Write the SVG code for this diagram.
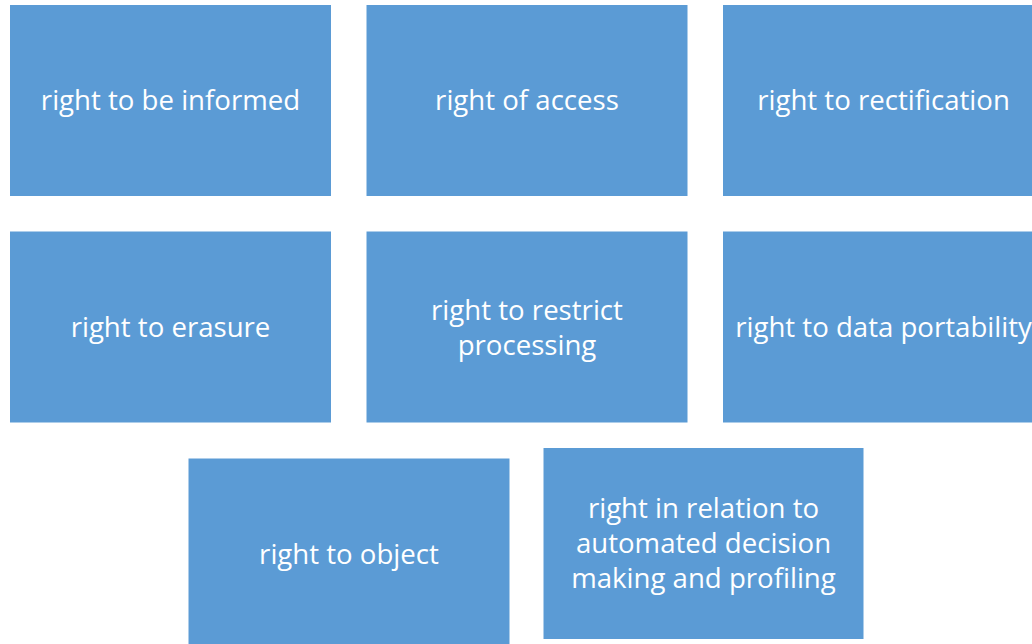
<svg xmlns="http://www.w3.org/2000/svg" width="1032" height="644" viewBox="0 0 1032 644">
  <style>
    .box { fill: #5b9bd5; stroke: #ffffff; stroke-width: 1; }
    .lbl { fill: #ffffff; font-family: "Open Sans", "Liberation Sans", sans-serif; font-size: 27.6px; text-anchor: middle; }
  </style>
  <rect width="1032" height="644" fill="#ffffff"/>

  <g id="node-informed">
    <rect class="box" x="9.5" y="4.5" width="322" height="192"/>
    <text class="lbl" x="170.5" y="110">right to be informed</text>
  </g>
  <g id="node-access">
    <rect class="box" x="366" y="4.5" width="322" height="192"/>
    <text class="lbl" x="527" y="110">right of access</text>
  </g>
  <g id="node-rectification">
    <rect class="box" x="722.5" y="4.5" width="322" height="192"/>
    <text class="lbl" x="883.5" y="110">right to rectification</text>
  </g>

  <g id="node-erasure">
    <rect class="box" x="9.5" y="231" width="322" height="192"/>
    <text class="lbl" x="170.5" y="337">right to erasure</text>
  </g>
  <g id="node-restrict">
    <rect class="box" x="366" y="231" width="322" height="192"/>
    <text class="lbl" x="527" y="319.5">right to restrict</text>
    <text class="lbl" x="527" y="354.5">processing</text>
  </g>
  <g id="node-portability">
    <rect class="box" x="722.5" y="231" width="322" height="192"/>
    <text class="lbl" x="883.5" y="337">right to data portability</text>
  </g>

  <g id="node-object">
    <rect class="box" x="188" y="458" width="322" height="192"/>
    <text class="lbl" x="349" y="564">right to object</text>
  </g>
  <g id="node-automated">
    <rect class="box" x="543" y="447.5" width="321" height="192"/>
    <text class="lbl" x="703.5" y="518">right in relation to</text>
    <text class="lbl" x="703.5" y="553">automated decision</text>
    <text class="lbl" x="703.5" y="588">making and profiling</text>
  </g>

  <g id="connectors"/>
</svg>
